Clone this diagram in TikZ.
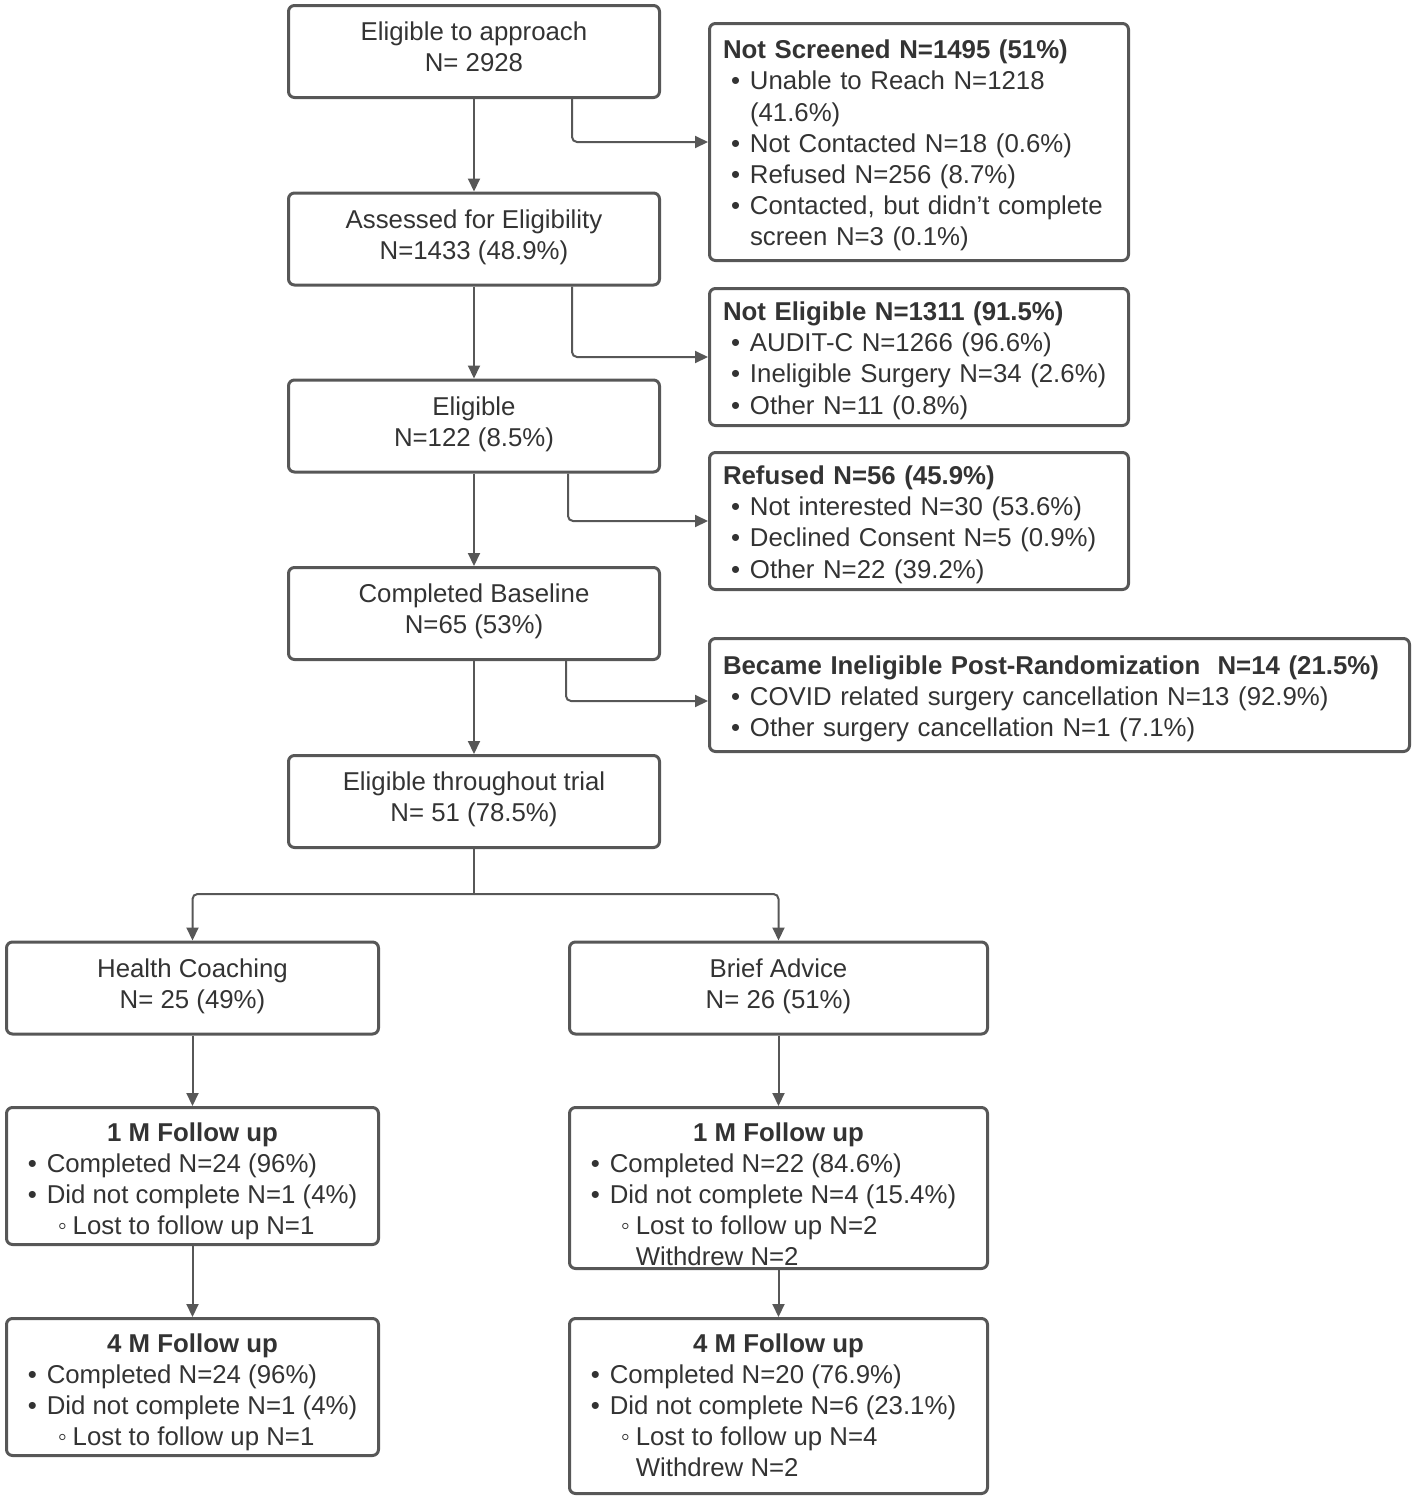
\documentclass[tikz,border=0pt]{standalone}
\usepackage{fontspec}
\setmainfont{Liberation Sans}
\usetikzlibrary{arrows.meta}
\definecolor{linegray}{HTML}{575757}
\definecolor{textgray}{HTML}{333333}
\newcommand{\bul}{\makebox[9.5pt][l]{•}}
\newcommand{\ibul}{\hspace*{4pt}\bul}
\newcommand{\sbul}{\hspace*{15pt}\makebox[7.5pt][l]{◦}}
\tikzset{%
  box/.style      = {shape=rectangle, rounded corners=3pt, draw=linegray,%
                     line width=1.5pt, text=textgray, inner sep=0pt,%
                     font=\fontsize{12.9}{15.6}\selectfont},%
  mainbox/.style  = {box, align=center, minimum width=185.5pt, minimum height=46pt,%
                     execute at begin node=\strut, execute at end node=\strut},%
  sidebox/.style  = {box, align=left, inner xsep=6.75pt, text width=196pt,%
                     minimum width=209.5pt,%
                     execute at begin node=\rule{0pt}{14.9pt}, execute at end node=\strut},%
  followup/.style = {box, text height=16.75pt, text depth=#1, minimum height=16.75pt+#1}%
}

\begin{document}
\begin{tikzpicture}[x=0.5pt,y=-0.5pt,conn/.style={draw=linegray,line width=1pt,rounded corners=2.5pt,-{Triangle[length=6.5pt,width=6pt]}}]
\useasboundingbox (0,0) rectangle (1416,1500);
\node[mainbox] (appr) at (474,51.5) {Eligible to approach\\N= 2928};
\node[mainbox] (asse) at (474,239) {Assessed for Eligibility\\N=1433 (48.9\%)};
\node[mainbox] (elig) at (474,426) {Eligible\\N=122 (8.5\%)};
\node[mainbox] (base) at (474,613.5) {Completed Baseline\\N=65 (53\%)};
\node[mainbox] (thru) at (474,801.5) {Eligible throughout trial\\N= 51 (78.5\%)};

\node[sidebox, minimum height=118.5pt] (nscr) at (919,142) {{\bfseries Not Screened N=1495 (51\%)}\\
  \ibul Unable to Reach N=1218\\
  \hspace*{13.5pt}(41.6\%)\\
  \ibul Not Contacted N=18 (0.6\%)\\
  \ibul Refused N=256 (8.7\%)\\
  \ibul Contacted, but didn’t complete\\
  \hspace*{13.5pt}screen N=3 (0.1\%)};
\node[sidebox, minimum height=68.5pt] (nelg) at (919,357) {{\bfseries Not Eligible N=1311 (91.5\%)}\\
  \ibul AUDIT-C N=1266 (96.6\%)\\
  \ibul Ineligible Surgery N=34 (2.6\%)\\
  \ibul Other N=11 (0.8\%)};
\node[sidebox, minimum height=68.5pt] (refu) at (919,521) {{\bfseries Refused N=56 (45.9\%)}\\
  \ibul Not interested N=30 (53.6\%)\\
  \ibul Declined Consent N=5 (0.9\%)\\
  \ibul Other N=22 (39.2\%)};
\node[sidebox, minimum height=56.5pt, text width=336.5pt, minimum width=350pt] (inel) at (1059.5,695) {{\bfseries Became Ineligible Post-Randomization\ \ N=14 (21.5\%)}\\
  \ibul COVID related surgery cancellation N=13 (92.9\%)\\
  \ibul Other surgery cancellation N=1 (7.1\%)};

\node[mainbox, minimum width=186pt] (hc) at (192.5,988) {Health Coaching\\N= 25 (49\%)};
\node[mainbox, minimum width=209pt] (ba) at (778.5,988) {Brief Advice\\N= 26 (51\%)};

\node[followup=51.75pt, minimum width=186pt] (hc1) at (192.5,1176) {\begin{tabular}[t]{@{}l@{}}
  \multicolumn{1}{@{}c@{}}{\bfseries 1 M Follow up}\\
  \bul Completed N=24 (96\%)\\
  \bul Did not complete N=1 (4\%)\\
  \sbul Lost to follow up N=1
  \end{tabular}};
\node[followup=63.75pt, minimum width=209pt] (ba1) at (778.5,1188) {\begin{tabular}[t]{@{}l@{\hspace{5pt}}}
  \multicolumn{1}{@{}c@{}}{\bfseries 1 M Follow up}\\
  \bul Completed N=22 (84.6\%)\\
  \bul Did not complete N=4 (15.4\%)\\
  \sbul Lost to follow up N=2\\
  \hspace*{22.5pt}Withdrew N=2
  \end{tabular}};
\node[followup=51.75pt, minimum width=186pt] (hc4) at (192.5,1387) {\begin{tabular}[t]{@{}l@{}}
  \multicolumn{1}{@{}c@{}}{\bfseries 4 M Follow up}\\
  \bul Completed N=24 (96\%)\\
  \bul Did not complete N=1 (4\%)\\
  \sbul Lost to follow up N=1
  \end{tabular}};
\node[followup=70.75pt, minimum width=209pt] (ba4) at (778.5,1406) {\begin{tabular}[t]{@{}l@{\hspace{5pt}}}
  \multicolumn{1}{@{}c@{}}{\bfseries 4 M Follow up}\\
  \bul Completed N=20 (76.9\%)\\
  \bul Did not complete N=6 (23.1\%)\\
  \sbul Lost to follow up N=4\\
  \hspace*{22.5pt}Withdrew N=2
  \end{tabular}};

\draw[conn] (appr.south) -- (asse.north);
\draw[conn] (asse.south) -- (elig.north);
\draw[conn] (elig.south) -- (base.north);
\draw[conn] (base.south) -- (thru.north);
\draw[conn] ([xshift=49pt]appr.south) |- (nscr.west);
\draw[conn] ([xshift=49pt]asse.south) |- (nelg.west);
\draw[conn] ([xshift=47pt]elig.south) |- (refu.west);
\draw[conn] ([xshift=46pt]base.south) |- ([yshift=-3pt]inel.west);
\coordinate (split) at ([yshift=-22.5pt]thru.south);
\draw[draw=linegray,line width=1pt] (thru.south) -- (split);
\draw[conn] (split) -| (hc.north);
\draw[conn] (split) -| (ba.north);
\draw[conn] (hc.south) -- (hc1.north);
\draw[conn] (ba.south) -- (ba1.north);
\draw[conn] (hc1.south) -- (hc4.north);
\draw[conn] (ba1.south) -- (ba4.north);
\end{tikzpicture}
\end{document}
